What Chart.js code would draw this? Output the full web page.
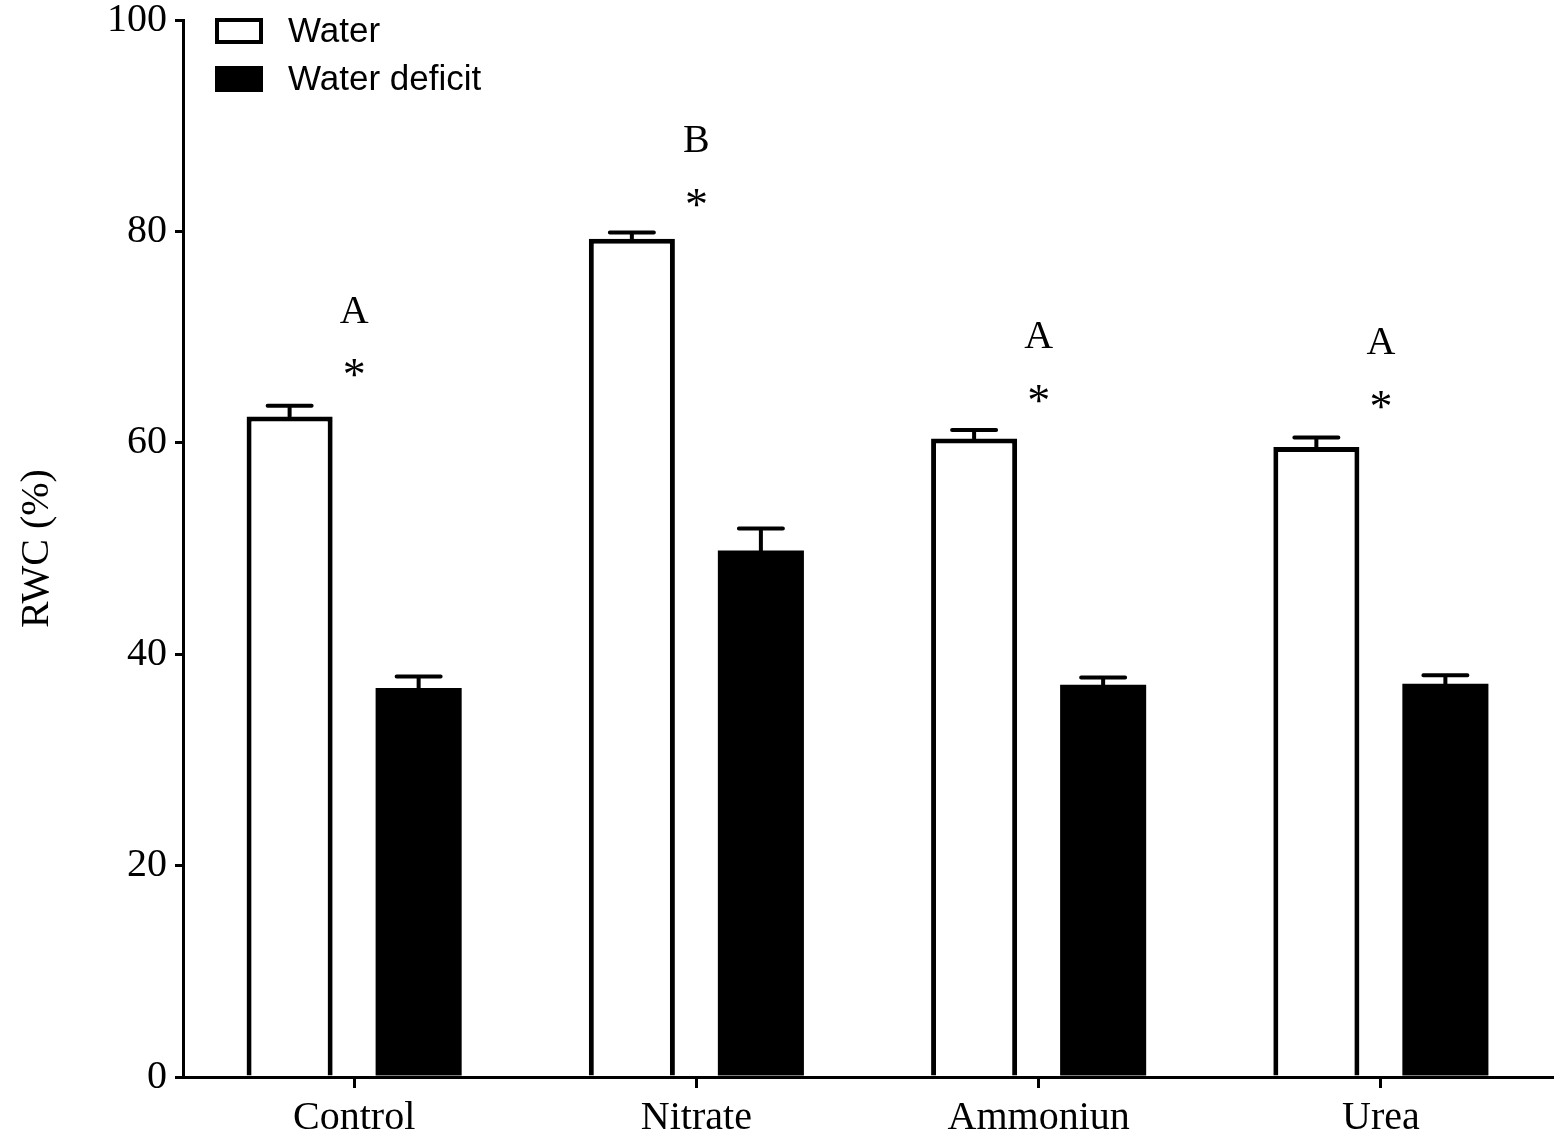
<!DOCTYPE html>
<html>
<head>
<meta charset="utf-8">
<script src="https://cdn.jsdelivr.net/npm/chart.js@4"></script>
<style>
  html, body { margin: 0; padding: 0; background: #fff; }
  #wrap { width: 1559px; height: 1139px; }
</style>
</head>
<body>
<div id="wrap"><canvas id="rwcChart" width="1559" height="1139"></canvas></div>
<script>
// Chart data
const categories = ["Control", "Nitrate", "Ammoniun", "Urea"];
const waterValues = [62.5, 79.3, 60.4, 59.6];
const waterErrors = [1.0, 0.6, 0.8, 0.9];
const deficitValues = [36.8, 49.8, 37.1, 37.2];
const deficitErrors = [1.1, 2.1, 0.7, 0.8];
const letterLabels = ["A", "B", "A", "A"];
const letterLevels = [72.3, 88.5, 70.0, 69.4];
const starLevels = [67.0, 83.1, 64.5, 64.0];
const yTicks = [0, 20, 40, 60, 80, 100];

const errorsByDataset = [waterErrors, deficitErrors];

Chart.defaults.color = "#000";

// Upper error bars (T shape)
const errorBars = {
    id: "errorBars",
    afterDatasetsDraw(chart) {
        const ctx = chart.ctx;
        const y = chart.scales.y;
        ctx.save();
        ctx.strokeStyle = "#000";
        ctx.lineWidth = 4;
        ctx.lineCap = "round";
        chart.data.datasets.forEach((ds, i) => {
            const meta = chart.getDatasetMeta(i);
            meta.data.forEach((bar, j) => {
                const top = y.getPixelForValue(ds.data[j] + errorsByDataset[i][j]);
                ctx.beginPath();
                ctx.moveTo(bar.x, bar.y);
                ctx.lineTo(bar.x, top);
                ctx.moveTo(bar.x - 22, top);
                ctx.lineTo(bar.x + 22, top);
                ctx.stroke();
            });
        });
        ctx.restore();
    },
};

// Letters and asterisks above each group
const groupMarks = {
    id: "groupMarks",
    afterDatasetsDraw(chart) {
        const ctx = chart.ctx;
        const x = chart.scales.x;
        const y = chart.scales.y;
        ctx.save();
        ctx.fillStyle = "#000";
        ctx.textAlign = "center";
        ctx.textBaseline = "middle";
        categories.forEach((c, i) => {
            const cx = x.getPixelForValue(i);
            ctx.font = "40px 'Liberation Serif'";
            ctx.fillText(letterLabels[i], cx, y.getPixelForValue(letterLevels[i]));
            ctx.font = "46px 'Liberation Serif'";
            ctx.fillText("*", cx, y.getPixelForValue(starLevels[i]) + 9);
        });
        ctx.restore();
    },
};

// Stacked legend in the top left corner
const stackedLegend = {
    id: "stackedLegend",
    afterDraw(chart) {
        const ctx = chart.ctx;
        const left = chart.chartArea.left + 34;
        ctx.save();
        ctx.font = "35px 'Liberation Sans'";
        ctx.textBaseline = "middle";
        ctx.textAlign = "left";
        chart.data.datasets.forEach((ds, i) => {
            const cy = 31 + i * 48;
            ctx.fillStyle = ds.backgroundColor;
            ctx.fillRect(left, cy - 11, 44, 22);
            ctx.strokeStyle = "#000";
            ctx.lineWidth = 4;
            ctx.strokeRect(left, cy - 11, 44, 22);
            ctx.fillStyle = "#000";
            ctx.fillText(ds.label, left + 71, cy + 1);
        });
        ctx.restore();
    },
};

const ctx = document.getElementById("rwcChart").getContext("2d");
const rwcChart = new Chart(ctx, {
    type: "bar",
    data: {
        labels: categories,
        datasets: [
            {
                label: "Water",
                data: waterValues,
                backgroundColor: "#fff",
                borderColor: "#000",
                borderWidth: 5,
            },
            {
                label: "Water deficit",
                data: deficitValues,
                backgroundColor: "#000",
                borderColor: "#000",
                borderWidth: 0,
            },
        ],
    },
    options: {
        responsive: false,
        animation: false,
        devicePixelRatio: 1,
        categoryPercentage: 0.754,
        barPercentage: 0.667,
        layout: {
            padding: { top: 19, right: 7, left: 0, bottom: 0 },
        },
        plugins: {
            legend: { display: false },
            tooltip: { enabled: false },
        },
        scales: {
            x: {
                grid: {
                    display: true,
                    offset: false,
                    drawOnChartArea: false,
                    drawTicks: true,
                    tickLength: 11,
                    color: "#000",
                    lineWidth: 3,
                },
                border: { display: true, color: "#000", width: 3 },
                ticks: {
                    font: { family: "'Liberation Serif'", size: 40 },
                    padding: 6,
                },
                afterFit(scale) {
                    scale.height = 62;
                },
            },
            y: {
                min: 0,
                max: 100,
                afterBuildTicks(scale) {
                    scale.ticks = yTicks.map((v) => ({ value: v }));
                },
                grid: {
                    display: true,
                    drawOnChartArea: false,
                    drawTicks: true,
                    tickLength: 8,
                    color: "#000",
                    lineWidth: 3,
                },
                border: { display: true, color: "#000", width: 3 },
                ticks: {
                    font: { family: "'Liberation Serif'", size: 40, lineHeight: 0.6 },
                    padding: 8,
                },
                title: {
                    display: true,
                    text: "RWC (%)",
                    font: { family: "'Liberation Serif'", size: 40 },
                    padding: { top: 13, bottom: 0 },
                },
                afterFit(scale) {
                    scale.width = 183;
                },
            },
        },
    },
    plugins: [errorBars, groupMarks, stackedLegend],
});
</script>
</body>
</html>
